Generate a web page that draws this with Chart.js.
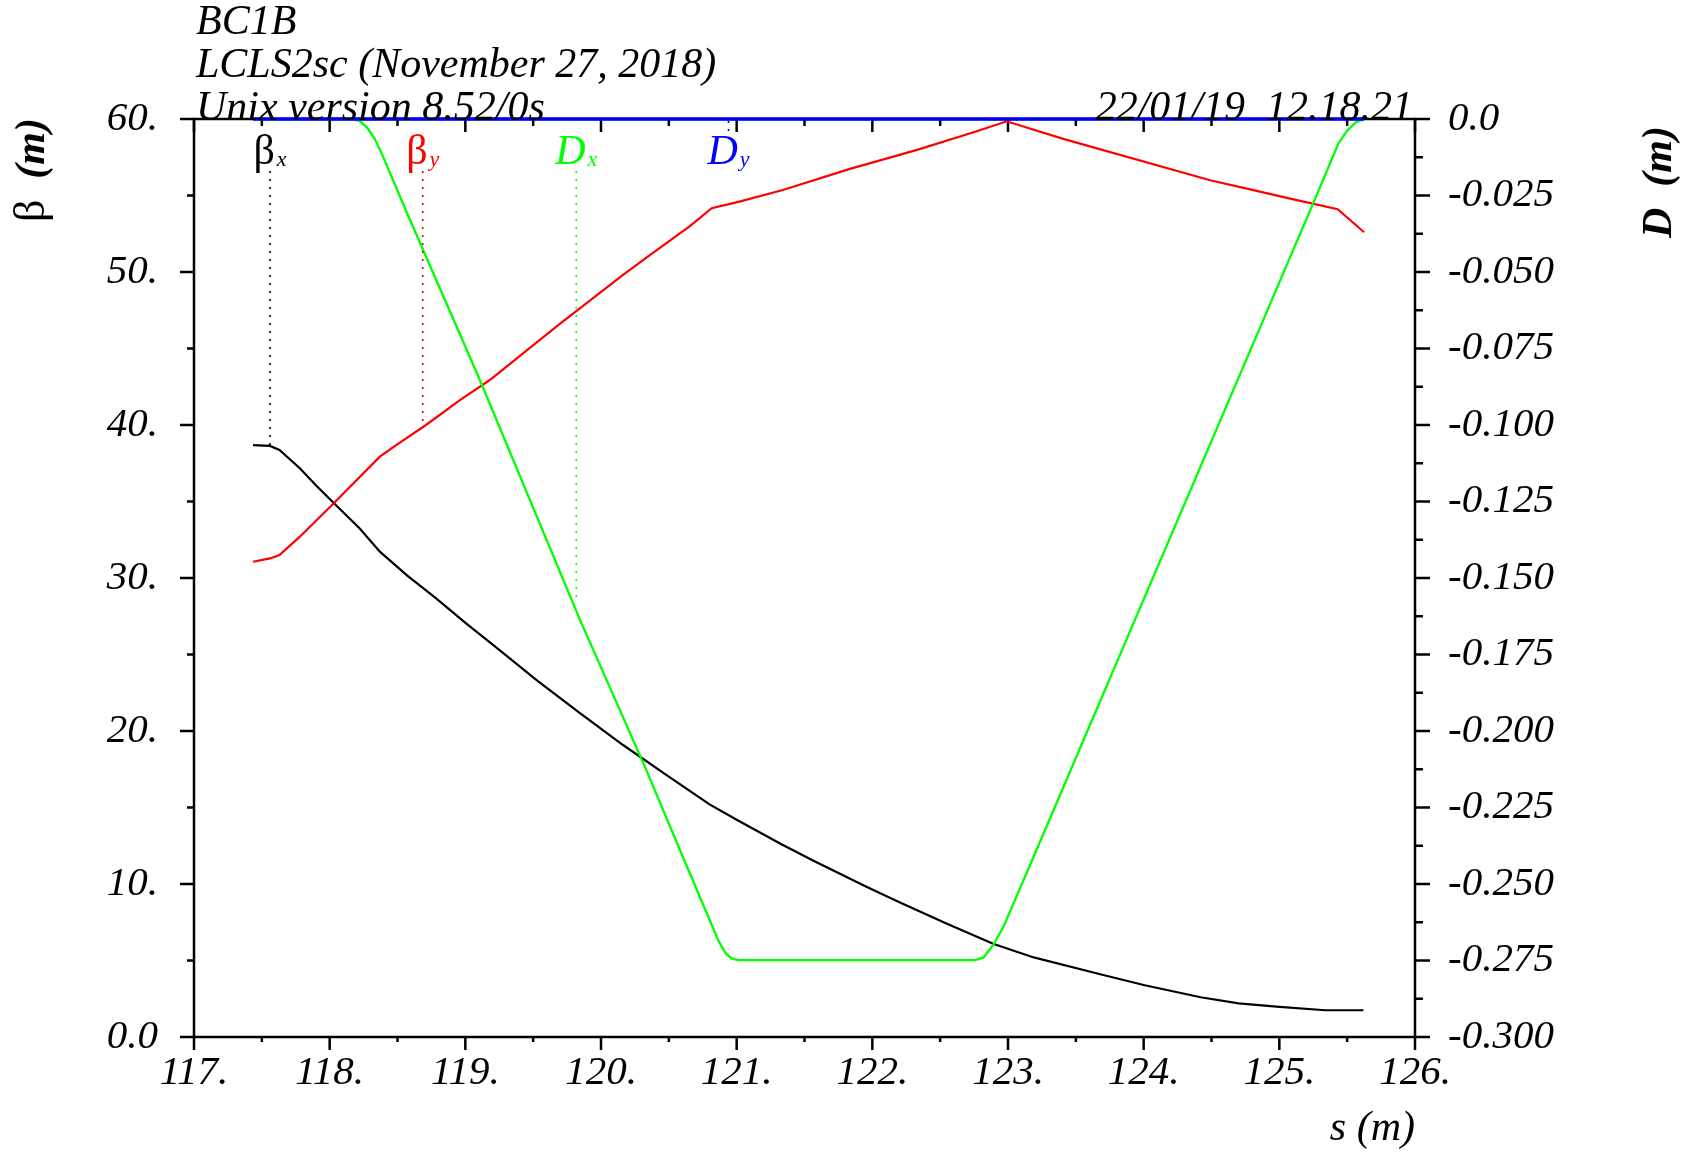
<!DOCTYPE html>
<html>
<head>
<meta charset="utf-8">
<title>BC1B optics</title>
<script src="https://cdn.jsdelivr.net/npm/chart.js@4.4.1/dist/chart.umd.min.js"></script>
<style>
  html, body { margin: 0; padding: 0; background: #fff; }
  #wrap { width: 1683px; height: 1153px; position: relative; }
</style>
</head>
<body>
<div id="wrap"><canvas id="optics"></canvas></div>
<script>
/* global Chart */

var titleLines = ["BC1B", "LCLS2sc (November 27, 2018)", "Unix version 8.52/0s"];
var stampText = "22/01/19  12.18.21";

// axis ticks (empty label = minor tick)
var sTicks = [117, 117.5, 118, 118.5, 119, 119.5, 120, 120.5, 121, 121.5, 122, 122.5, 123, 123.5, 124, 124.5, 125, 125.5, 126];
var sTickLabels = ["117.", "", "118.", "", "119.", "", "120.", "", "121.", "", "122.", "", "123.", "", "124.", "", "125.", "", "126."];
var betaTicks = [0, 5, 10, 15, 20, 25, 30, 35, 40, 45, 50, 55, 60];
var betaTickLabels = ["0.0", "", "10.", "", "20.", "", "30.", "", "40.", "", "50.", "", "60."];
var dispTicks = [0, -0.0125, -0.025, -0.0375, -0.05, -0.0625, -0.075, -0.0875, -0.1, -0.1125, -0.125, -0.1375, -0.15,
  -0.1625, -0.175, -0.1875, -0.2, -0.2125, -0.225, -0.2375, -0.25, -0.2625, -0.275, -0.2875, -0.3];
var dispTickLabels = ["0.0", "", "-0.025", "", "-0.050", "", "-0.075", "", "-0.100", "", "-0.125", "", "-0.150",
  "", "-0.175", "", "-0.200", "", "-0.225", "", "-0.250", "", "-0.275", "", "-0.300"];

// beta_x (m)
var betaXS = [117.435, 117.56, 117.63, 117.78, 117.90, 118.03, 118.22, 118.37, 118.57, 118.78, 119.01, 119.25, 119.53, 119.84,
  120.16, 120.47, 120.80, 121.0, 121.33, 121.57, 121.96, 122.20, 122.55, 122.89, 123.19, 123.68, 124.0, 124.42, 124.70, 125.0, 125.34, 125.62];
var betaXV = [38.69, 38.63, 38.37, 37.17, 36.05, 34.9, 33.25, 31.72, 30.17, 28.7, 27.0, 25.3, 23.3, 21.2,
  19.1, 17.2, 15.2, 14.2, 12.6, 11.5, 9.8, 8.8, 7.4, 6.1, 5.2, 4.1, 3.4, 2.6, 2.2, 1.97, 1.75, 1.75];

// beta_y (m)
var betaYS = [117.435, 117.56, 117.63, 117.78, 118.03, 118.37, 118.49, 118.71, 118.96, 119.18, 119.68, 120.16, 120.36, 120.655,
  120.816, 121.02, 121.34, 121.835, 122.33, 122.77, 122.99, 123.42, 124.49, 124.785, 125.08, 125.43, 125.625];
var betaYV = [31.06, 31.28, 31.5, 32.7, 34.88, 37.93, 38.69, 40.0, 41.63, 42.94, 46.5, 49.8, 51.1, 53.0,
  54.17, 54.6, 55.36, 56.74, 57.98, 59.2, 59.85, 58.67, 56.0, 55.4, 54.8, 54.1, 52.6];

// D_x (m)
var dxS = [117.435, 118.17, 118.22, 118.275, 118.33, 118.38, 118.575, 119.107, 119.845, 120.316, 120.582, 120.864, 120.92, 120.963,
  121.01, 122.757, 122.82, 122.89, 122.966, 123.21, 124.0, 124.945, 125.25, 125.437, 125.5, 125.56, 125.62];
var dxV = [0, 0, -0.0006, -0.0027, -0.0063, -0.0109, -0.0312, -0.0853, -0.1637, -0.2109, -0.2389, -0.2684, -0.2728, -0.2743,
  -0.2749, -0.2749, -0.274, -0.270, -0.264, -0.2389, -0.157, -0.0591, -0.0275, -0.0079, -0.0038, -0.0012, 0];

// D_y (m)
var dyS = [117.435, 125.625];
var dyV = [0, 0];

// curve labels with dotted leaders
var markerNames = ["\u03b2", "\u03b2", "D", "D"];
var markerSubs = ["x", "y", "x", "y"];
var markerS = [117.56, 118.686, 119.818, 120.94];
var markerAt = [38.63, 39.86, -0.157, 0];
var markerAxis = ["y", "y", "y2", "y2"];
var markerColors = ["#000000", "#ff0000", "#00ff00", "#0000ff"];

var SERIF = "'Liberation Serif', 'Times New Roman', serif";

function pts(xs, ys) {
  return xs.map(function (x, i) { return { x: x, y: ys[i] }; });
}

var frame = {
  id: "frame",
  beforeDatasetsDraw: function (chart) {
    var ctx = chart.ctx, a = chart.chartArea;
    var sx = chart.scales.x, sy = chart.scales.y, sd = chart.scales.y2;
    ctx.save();
    ctx.strokeStyle = "#000";
    ctx.lineWidth = 2.5;
    ctx.strokeRect(a.left, a.top, a.right - a.left, a.bottom - a.top);
    ctx.beginPath();
    sTicks.forEach(function (v, i) {
      var px = sx.getPixelForValue(v);
      var major = sTickLabels[i] !== "";
      ctx.moveTo(px, a.bottom); ctx.lineTo(px, a.bottom + (major ? 13 : 5));
      ctx.moveTo(px, a.top); ctx.lineTo(px, a.top + (major ? 13 : 7));
    });
    betaTicks.forEach(function (v, i) {
      var py = sy.getPixelForValue(v);
      ctx.moveTo(a.left, py); ctx.lineTo(a.left - (betaTickLabels[i] !== "" ? 14 : 7), py);
    });
    dispTicks.forEach(function (v, i) {
      var py = sd.getPixelForValue(v);
      ctx.moveTo(a.right, py); ctx.lineTo(a.right + (dispTickLabels[i] !== "" ? 15 : 8), py);
    });
    ctx.stroke();
    ctx.restore();
  },
  afterDatasetsDraw: function (chart) {
    var ctx = chart.ctx;
    var sx = chart.scales.x;
    var base = 164, top = 135, below = 171;
    ctx.save();
    for (var i = 0; i < markerS.length; i++) {
      var cx = sx.getPixelForValue(markerS[i]);
      var cy = chart.scales[markerAxis[i]].getPixelForValue(markerAt[i]);
      var mainFont = (markerNames[i] === "D" ? "italic " : "") + "42px " + SERIF;
      var subFont = "italic 22px " + SERIF;
      ctx.font = mainFont;
      var w1 = ctx.measureText(markerNames[i]).width;
      ctx.font = subFont;
      var w2 = ctx.measureText(markerSubs[i]).width;
      var x0 = cx - (w1 + w2 + 2) / 2;
      ctx.fillStyle = markerColors[i];
      ctx.font = mainFont;
      ctx.textAlign = "left";
      ctx.textBaseline = "alphabetic";
      ctx.fillText(markerNames[i], x0, base);
      ctx.font = subFont;
      ctx.fillText(markerSubs[i], x0 + w1 + 2, base + 2);

      ctx.strokeStyle = markerColors[i];
      ctx.lineWidth = 1.6;
      ctx.setLineDash([2, 6]);
      ctx.beginPath();
      if (cy > below) { ctx.moveTo(cx, below); ctx.lineTo(cx, cy); }
      else { ctx.moveTo(cx, cy + 2); ctx.lineTo(cx, top - 2); }
      ctx.stroke();
      ctx.setLineDash([]);
    }
    ctx.restore();
  },
  afterDraw: function (chart) {
    var ctx = chart.ctx, a = chart.chartArea;
    ctx.save();
    ctx.fillStyle = "#000";
    ctx.textBaseline = "alphabetic";
    ctx.font = "italic 42px " + SERIF;
    ctx.textAlign = "left";
    titleLines.forEach(function (t, i) { ctx.fillText(t, a.left + 2, 34 + i * 43); });
    ctx.textAlign = "right";
    ctx.fillText(stampText, a.right - 2, 120);
    ctx.fillText("s (m)", a.right, 1140);

    // left axis title
    ctx.save();
    ctx.translate(44, 118);
    ctx.rotate(-Math.PI / 2);
    ctx.textAlign = "right";
    ctx.font = "bold italic 42px " + SERIF;
    var wm = ctx.measureText("  (m)").width;
    ctx.fillText("  (m)", 0, 0);
    ctx.font = "44px " + SERIF;
    ctx.fillText("\u03b2", -wm, 0);
    ctx.restore();

    // right axis title
    ctx.save();
    ctx.translate(1671, 126);
    ctx.rotate(-Math.PI / 2);
    ctx.textAlign = "right";
    ctx.font = "bold italic 42px " + SERIF;
    ctx.fillText("D  (m)", 0, 0);
    ctx.restore();
    ctx.restore();
  }
};

var tickFont = { family: SERIF, size: 41, style: "italic" };

function fixedTicks(values) {
  return function (scale) {
    scale.ticks = values.map(function (v) { return { value: v }; });
  };
}

window.addEventListener("DOMContentLoaded", function () {
  // eslint-disable-next-line no-new
  new Chart(document.getElementById("optics"), {
    type: "line",
    data: {
      datasets: [
        { label: "Dy", data: pts(dyS, dyV), yAxisID: "y2", borderColor: "#0000ff", borderWidth: 3.4, clip: false },
        { label: "Dx", data: pts(dxS, dxV), yAxisID: "y2", borderColor: "#00ff00", borderWidth: 2.3, clip: false },
        { label: "betay", data: pts(betaYS, betaYV), yAxisID: "y", borderColor: "#ff0000", borderWidth: 2.2 },
        { label: "betax", data: pts(betaXS, betaXV), yAxisID: "y", borderColor: "#000000", borderWidth: 2.2 }
      ]
    },
    options: {
      responsive: true,
      maintainAspectRatio: false,
      animation: false,
      devicePixelRatio: 1,
      elements: { point: { radius: 0 }, line: { tension: 0, fill: false } },
      layout: { padding: { top: 119, left: 0, right: 0, bottom: 0 } },
      plugins: { legend: { display: false }, tooltip: { enabled: false } },
      scales: {
        x: {
          type: "linear", position: "bottom", min: 117, max: 126,
          afterBuildTicks: fixedTicks(sTicks),
          afterFit: function (s) { s.height = 116; },
          grid: { display: false, drawTicks: false },
          border: { display: false },
          ticks: {
            autoSkip: false, maxRotation: 0, minRotation: 0, padding: 12, color: "#000", font: tickFont,
            callback: function (v, i) { return sTickLabels[i]; }
          }
        },
        y: {
          type: "linear", position: "left", min: 0, max: 60,
          afterBuildTicks: fixedTicks(betaTicks),
          afterFit: function (s) { s.width = 194; },
          grid: { display: false, drawTicks: false },
          border: { display: false },
          ticks: {
            autoSkip: false, padding: 36, color: "#000", font: tickFont,
            callback: function (v, i) { return betaTickLabels[i]; }
          }
        },
        y2: {
          type: "linear", position: "right", min: -0.3, max: 0,
          afterBuildTicks: fixedTicks(dispTicks),
          afterFit: function (s) { s.width = 268; },
          grid: { display: false, drawTicks: false },
          border: { display: false },
          ticks: {
            autoSkip: false, padding: 33, color: "#000", font: tickFont,
            callback: function (v, i) { return dispTickLabels[i]; }
          }
        }
      }
    },
    plugins: [frame]
  });
});
</script>
</body>
</html>
